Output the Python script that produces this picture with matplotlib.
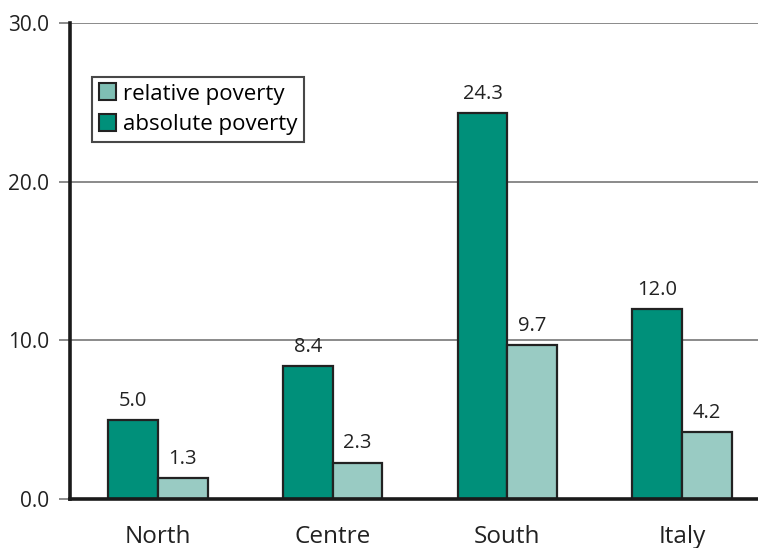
import numpy as np
import matplotlib.pyplot as plt
from matplotlib.patches import Patch

regions = ["North", "Centre", "South", "Italy"]
absolute_poverty = [5.0, 8.4, 24.3, 12.0]
relative_poverty = [1.3, 2.3, 9.7, 4.2]
y_ticks = [0, 10, 20, 30]

dark = "#00907a"
light = "#99cbc3"
edge = "#222222"

plt.rcParams['font.family'] = ['Open Sans', 'DejaVu Sans']

fig = plt.figure(figsize=(7.58, 5.48), dpi=100)
ax = fig.add_axes([0.0923, 0.0894, 0.9077, 0.8686])

x = np.arange(len(regions))
w = 0.284
b1 = ax.bar(x - w / 2, absolute_poverty, w, color=dark, edgecolor=edge, linewidth=1.6, zorder=3)
b2 = ax.bar(x + w / 2, relative_poverty, w, color=light, edgecolor=edge, linewidth=1.6, zorder=3)

for bars, vals in ((b1, absolute_poverty), (b2, relative_poverty)):
    for r, v in zip(bars, vals):
        ax.annotate(f"{v:.1f}", (r.get_x() + r.get_width() / 2, v),
                    xytext=(0, 6.5), textcoords="offset points",
                    ha="center", va="bottom", fontsize=14.5, color="#222222")

ax.set_xlim(-0.504, 3.435)
ax.set_ylim(0, 30)
ax.set_yticks(y_ticks)
ax.set_yticklabels([f"{t:.1f}" for t in y_ticks], fontsize=15, color="#222222")
ax.set_xticks(x)
ax.set_xticklabels(regions, fontsize=17.5, color="#222222")
ax.tick_params(axis="x", length=0, pad=19)
ax.tick_params(axis="y", length=8, width=1.2, color="#777777", pad=7)

ax.yaxis.grid(True, color="#777777", linewidth=1.2, zorder=0)
for s in ("top", "right"):
    ax.spines[s].set_visible(False)
ax.spines["left"].set_linewidth(2.6)
ax.spines["bottom"].set_linewidth(2.6)
ax.spines["left"].set_color("#1a1a1a")
ax.spines["bottom"].set_color("#1a1a1a")
ax.spines["left"].set_zorder(4)
ax.spines["bottom"].set_zorder(4)

handles = [Patch(facecolor="#7fbfb4", edgecolor=edge, linewidth=1.5, label="relative poverty"),
           Patch(facecolor=dark, edgecolor=edge, linewidth=1.5, label="absolute poverty")]
leg = ax.legend(handles=handles, loc="upper left", bbox_to_anchor=(0.032, 0.887),
                fontsize=16, frameon=True, fancybox=False, edgecolor="#1a1a1a",
                handlelength=0.8, handleheight=0.8, handletextpad=0.3,
                borderpad=0.3, labelspacing=0.42, borderaxespad=0)
leg.get_frame().set_linewidth(1.5)

fig.savefig("out.png", dpi=100)
